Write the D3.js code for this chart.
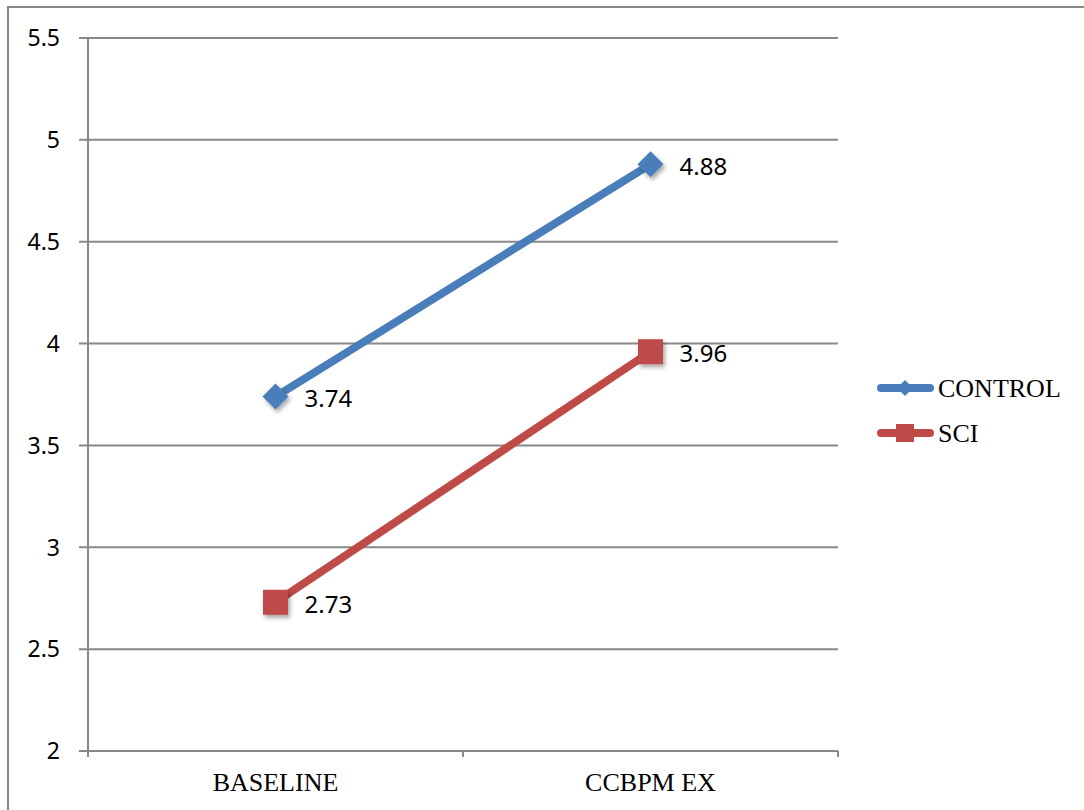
<!DOCTYPE html>
<html><head><meta charset="utf-8">
<script src="https://cdn.jsdelivr.net/npm/d3@7"></script>
<style>body{margin:0;background:#fff}svg{display:block}</style>
</head><body>
<svg id="c" width="1084" height="810"></svg>
<script>
const categories = ["BASELINE", "CCBPM EX"];
const seriesNames = ["CONTROL", "SCI"];
const controlValues = [3.74, 4.88];
const sciValues = [2.73, 3.96];
const yTicks = [2, 2.5, 3, 3.5, 4, 4.5, 5, 5.5];
const colors = ["#4A7EBB", "#BE4B48"];
const shapes = ["diamond", "square"];

(function(){
const svg = d3.select("#c");
const pLeft = 88, pRight = 838, pTop = 38, pBottom = 751;

const defs = svg.append("defs");
const f = defs.append("filter").attr("id","sh").attr("x","-50%").attr("y","-50%").attr("width","200%").attr("height","200%");
f.append("feDropShadow").attr("dx",2).attr("dy",3).attr("stdDeviation",2).attr("flood-color","#000").attr("flood-opacity",0.35);

// outer border
svg.append("path").attr("d","M8,812 L8,7 L1084,7").attr("fill","none").attr("stroke","#888").attr("stroke-width",2);

const y = d3.scaleLinear().domain([2,5.5]).range([pBottom, pTop]);
const x = d3.scaleBand().domain(categories).range([pLeft, pRight]);

// gridlines
svg.append("g").selectAll("line").data(yTicks).join("line")
  .attr("x1", pLeft - 9).attr("x2", pRight)
  .attr("y1", d => y(d)).attr("y2", d => y(d))
  .attr("stroke","#888").attr("stroke-width",2);

// y axis line
svg.append("line").attr("x1",pLeft).attr("x2",pLeft).attr("y1",pTop).attr("y2",pBottom+6).attr("stroke","#888").attr("stroke-width",2);
// x ticks
const xt = [pLeft, ...categories.slice(1).map(c => x(c)), pRight];
svg.append("g").selectAll("line").data(xt).join("line")
  .attr("x1", d=>d).attr("x2", d=>d).attr("y1", pBottom).attr("y2", pBottom+6)
  .attr("stroke","#888").attr("stroke-width",2);

// y labels
svg.append("g").selectAll("text").data(yTicks).join("text")
  .attr("x", 60).attr("y", d => y(d)).attr("dy","0.36em")
  .attr("text-anchor","end").attr("font-family","'Noto Sans', 'Open Sans', sans-serif").attr("font-size",23).attr("fill","#000")
  .text(d => d);

// x labels
svg.append("g").selectAll("text").data(categories).join("text")
  .attr("x", d => x(d) + x.bandwidth()/2).attr("y", 791)
  .attr("text-anchor","middle").attr("font-family","'Liberation Serif', 'Times New Roman', serif").attr("font-size",26).attr("fill","#000")
  .text(d => d);

const allSeries = [controlValues, sciValues];
const line = d3.line().x((d,i) => x(categories[i]) + x.bandwidth()/2).y(d => y(d));

function drawMarker(g, shape, cx, cy, color, s) {
  if (shape === "diamond") {
    g.append("path").attr("d", `M${cx},${cy-s} L${cx+s},${cy} L${cx},${cy+s} L${cx-s},${cy} Z`).attr("fill", color);
  } else {
    g.append("rect").attr("x", cx-s).attr("y", cy-s).attr("width", 2*s).attr("height", 2*s).attr("fill", color);
  }
}

allSeries.forEach((vals, si) => {
  svg.append("path").datum(vals).attr("d", line).attr("fill","none")
    .attr("stroke", colors[si]).attr("stroke-width", 8).attr("stroke-linecap","round");
  vals.forEach((v, i) => {
    const cx = x(categories[i]) + x.bandwidth()/2, cy = y(v);
    const g = svg.append("g").attr("filter","url(#sh)");
    drawMarker(g, shapes[si], cx, cy, colors[si], si === 0 ? 13 : 12.5);
    svg.append("text").attr("x", cx + 29).attr("y", cy + 2).attr("dy","0.36em")
      .attr("font-family","'Noto Sans', 'Open Sans', sans-serif").attr("font-size",24).attr("fill","#000")
      .text(v.toFixed(2));
  });
});

// legend
seriesNames.forEach((n, si) => {
  const ly = 388 + si * 45;
  svg.append("line").attr("x1", 881).attr("x2", 930).attr("y1", ly).attr("y2", ly)
    .attr("stroke", colors[si]).attr("stroke-width", 8).attr("stroke-linecap","round");
  const g = svg.append("g");
  drawMarker(g, shapes[si], 905, ly, colors[si], si === 0 ? 8 : 9);
  svg.append("text").attr("x", 938).attr("y", ly + 9)
    .attr("font-family","'Liberation Serif', 'Times New Roman', serif").attr("font-size",26).attr("fill","#000")
    .text(n);
});
})();
</script>
</body></html>
